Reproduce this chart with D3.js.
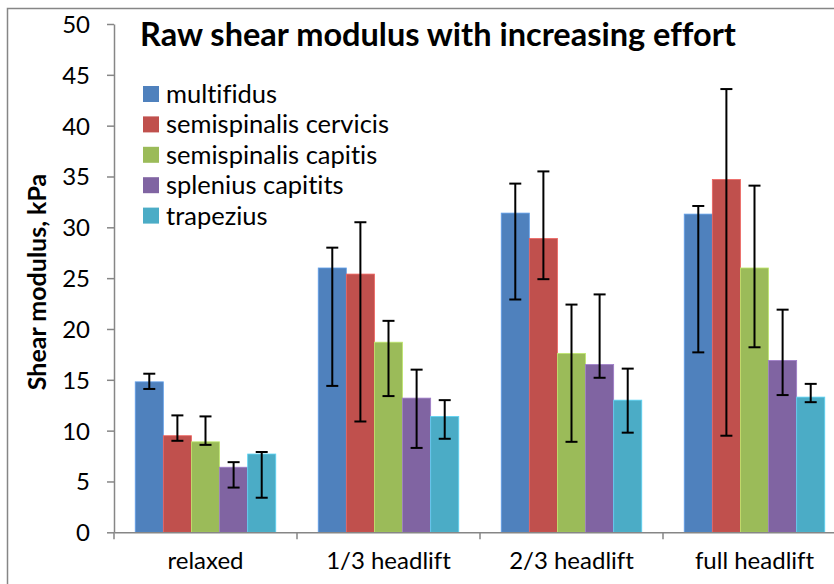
<!doctype html>
<html lang="en">
<head>
  <meta charset="utf-8" />
  <title>Raw shear modulus</title>
  <script src="https://d3js.org/d3.v7.min.js"></script>
  <style>
    body { margin: 0; background: #fff; }
    svg text { font-family: Lato, "Open Sans", sans-serif; fill: #000; font-variant-ligatures: none; }
  </style>
</head>
<body>
<script type="text/javascript">

  // DATA
  var categories = ["relaxed", "1/3 headlift", "2/3 headlift", "full headlift"];
  var muscles = ["multifidus", "semispinalis cervicis", "semispinalis capitis", "splenius capitits", "trapezius"];
  var colors = ["#4F81BD", "#C0504D", "#9BBB59", "#8064A2", "#4BACC6"];

  // mean values, one row per muscle (relaxed, 1/3, 2/3, full)
  var multifidus  = [14.8, 26.0, 31.4, 31.3];
  var cervicis    = [9.5, 25.4, 28.9, 34.7];
  var capitis     = [8.9, 18.7, 17.6, 26.0];
  var splenius    = [6.4, 13.2, 16.5, 16.9];
  var trapezius   = [7.7, 11.4, 13.0, 13.3];

  // error bar ends (upper and lower), same order
  var errHigh = [
    [15.6, 28.0, 34.3, 32.1],
    [11.5, 30.5, 35.5, 43.6],
    [11.4, 20.8, 22.4, 34.1],
    [6.9, 16.0, 23.4, 21.9],
    [7.9, 13.0, 16.1, 14.6]
  ];
  var errLow = [
    [14.1, 14.4, 22.9, 17.7],
    [9.0, 10.9, 24.9, 9.5],
    [8.6, 13.4, 8.9, 18.2],
    [4.4, 8.3, 15.2, 13.5],
    [3.4, 9.2, 9.8, 12.8]
  ];
  var yTicks = [0, 5, 10, 15, 20, 25, 30, 35, 40, 45, 50];

  var series = [multifidus, cervicis, capitis, splenius, trapezius];

  var W = 834, H = 584;
  var plotLeft = 114, plotRight = 846, plotTop = 24, plotBottom = 532.3;

  var svg = d3.select("body").append("svg")
    .attr("width", W)
    .attr("height", H);

  // chart frame (runs off the right and bottom edge)
  svg.append("rect")
    .attr("x", 7.5).attr("y", 8.5)
    .attr("width", 900).attr("height", 700)
    .attr("fill", "none")
    .attr("stroke", "#868686")
    .attr("stroke-width", 1.5);

  var x0 = d3.scaleBand()
    .domain(categories)
    .range([plotLeft, plotRight])
    .paddingInner(0.232)
    .paddingOuter(0.116);

  var x1 = d3.scaleBand()
    .domain(d3.range(muscles.length))
    .range([0, x0.bandwidth()]);

  var y = d3.scaleLinear()
    .domain([0, 50])
    .range([plotBottom, plotTop]);

  // bars
  var groups = svg.selectAll(".group")
    .data(series)
    .enter().append("g")
    .attr("class", "group");

  groups.each(function(vals, si) {
    var g = d3.select(this);
    g.selectAll("rect")
      .data(vals)
      .enter().append("rect")
      .attr("x", function(d, i) { return x0(categories[i]) + x1(si); })
      .attr("y", function(d) { return y(d); })
      .attr("width", x1.bandwidth())
      .attr("height", function(d) { return y(0) - y(d); })
      .attr("fill", colors[si])
      .attr("stroke", d3.color(colors[si]).brighter(0.6))
      .attr("stroke-width", 0.8);
  });

  // error bars
  var cap = 6;
  series.forEach(function(vals, si) {
    vals.forEach(function(v, i) {
      var cx = x0(categories[i]) + x1(si) + x1.bandwidth() / 2;
      var eb = svg.append("g").attr("stroke", "#000").attr("stroke-width", 2);
      eb.append("line")
        .attr("x1", cx).attr("x2", cx)
        .attr("y1", y(errHigh[si][i])).attr("y2", y(errLow[si][i]));
      eb.append("line")
        .attr("x1", cx - cap).attr("x2", cx + cap)
        .attr("y1", y(errHigh[si][i])).attr("y2", y(errHigh[si][i]));
      eb.append("line")
        .attr("x1", cx - cap).attr("x2", cx + cap)
        .attr("y1", y(errLow[si][i])).attr("y2", y(errLow[si][i]));
    });
  });

  // y axis
  var yAxis = d3.axisLeft(y)
    .tickValues(yTicks)
    .tickSize(7)
    .tickSizeOuter(0)
    .tickPadding(17);

  var gy = svg.append("g")
    .attr("transform", "translate(" + plotLeft + ",0)")
    .call(yAxis);
  gy.selectAll("path, line").attr("stroke", "#868686").attr("stroke-width", 1.5);
  gy.selectAll("text")
    .style("font-size", "24px")
    .attr("dy", "0.35em");

  // x axis: labels centred, ticks at category boundaries
  var xAxis = d3.axisBottom(x0).tickSize(0).tickPadding(20);
  var gx = svg.append("g")
    .attr("transform", "translate(0," + plotBottom + ")")
    .call(xAxis);
  gx.select(".domain").attr("stroke", "#868686").attr("stroke-width", 1.5);
  gx.selectAll("text").style("font-size", "24px");

  d3.range(categories.length).forEach(function(i) {
    var bx = x0.range()[0] + i * x0.step();
    svg.append("line")
      .attr("x1", bx).attr("x2", bx)
      .attr("y1", plotBottom).attr("y2", plotBottom + 7)
      .attr("stroke", "#868686")
      .attr("stroke-width", 1.5);
  });

  // title
  svg.append("text")
    .attr("x", 438)
    .attr("y", 46)
    .attr("text-anchor", "middle")
    .style("font-size", "32.5px")
    .style("font-weight", "bold")
    .text("Raw shear modulus with increasing effort");

  // y label
  svg.append("text")
    .attr("transform", "translate(46,282) rotate(-90)")
    .attr("text-anchor", "middle")
    .style("font-size", "25px")
    .style("font-weight", "bold")
    .text("Shear modulus, kPa");

  // legend
  var legend = svg.selectAll(".legend")
    .data(muscles)
    .enter().append("g")
    .attr("class", "legend")
    .attr("transform", function(d, i) { return "translate(143," + (94 + i * 30.4) + ")"; });

  legend.append("rect")
    .attr("x", 0).attr("y", -8)
    .attr("width", 16).attr("height", 16)
    .attr("fill", function(d, i) { return colors[i]; });

  legend.append("text")
    .attr("x", 23)
    .attr("dy", "0.35em")
    .style("font-size", "25.5px")
    .text(function(d) { return d; });

</script>
</body>
</html>
